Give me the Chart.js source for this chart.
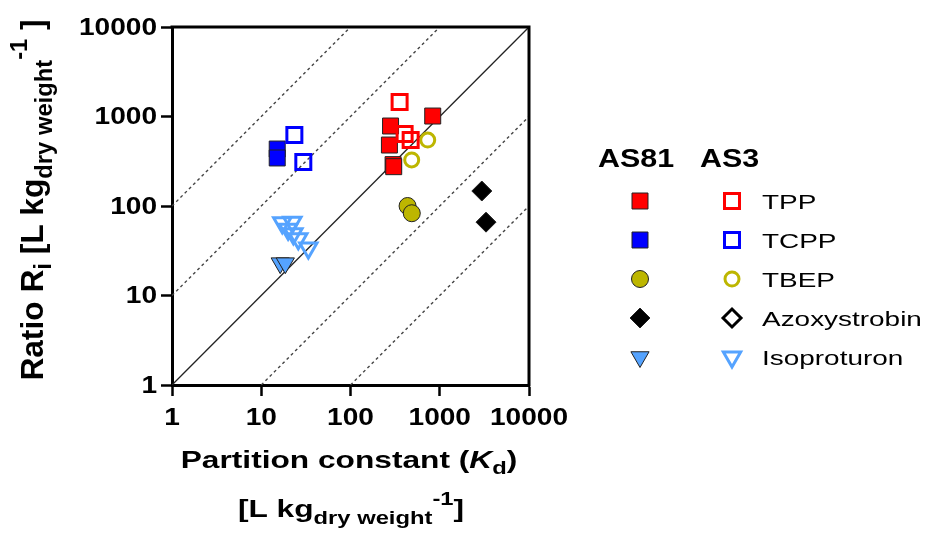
<!DOCTYPE html>
<html>
<head>
<meta charset="utf-8">
<script src="https://cdn.jsdelivr.net/npm/chart.js@4/dist/chart.umd.min.js"></script>
<style>
  html, body { margin: 0; padding: 0; background: #fff; }
</style>
</head>
<body>
<canvas id="c" width="925" height="539"></canvas>
<script>
// axis ticks (both axes log, 1..10000)
const tickValues = [1, 10, 100, 1000, 10000];
// reference lines: Ri = factor * Kd
const lineFactors = [100, 10, 1, 0.1, 0.01];

const compounds = ["TPP", "TCPP", "TBEP", "Azoxystrobin", "Isoproturon"];
const colors = ["#ff0000", "#0000ff", "#bdb600", "#000000", "#55a3ff"];
const shapes = ["rect", "rect", "circle", "rectRot", "triangle"];

// AS81 (filled markers)
const as81Kd = [[281, 273, 300, 305, 834], [15.1, 15.1], [436, 486], [2960, 3300], [16.3, 18.6]];
const as81Ri = [[783, 480, 290, 275, 1012], [433, 344], [100, 83], [147, 66], [23, 23]];
// AS3 (open markers)
const as3Kd = [[355, 404, 472], [23.5, 29.6], [733, 485], [], [17.2, 22.3, 20, 22.9, 26, 33.7]];
const as3Ri = [[1448, 637, 546], [620, 311], [545, 327], [], [65, 66, 55, 49, 43, 34]];

const filledRadius = { rect: 11.3, circle: 8.5, rectRot: 10, triangle: 10.5 };
const openRadius = { rect: 10.6, circle: 7, rectRot: 9, triangle: 10 };

function pts(xs, ys) {
  return xs.map((x, i) => ({ x: x, y: ys[i] }));
}

function markerStyle(i, open) {
  const shape = shapes[i];
  return {
    pointStyle: shape,
    rotation: shape === "triangle" ? 180 : 0,
    radius: open ? openRadius[shape] : filledRadius[shape],
    hoverRadius: open ? openRadius[shape] : filledRadius[shape],
    backgroundColor: open ? "rgba(0,0,0,0)" : colors[i],
    borderColor: open ? colors[i] : "#222",
    borderWidth: open ? 3 : 1
  };
}

const datasets = [];
compounds.forEach((name, i) => {
  const s = markerStyle(i, true);
  datasets.push({
    label: "AS3 " + name, data: pts(as3Kd[i], as3Ri[i]), showLine: false,
    pointStyle: s.pointStyle, rotation: s.rotation, pointRadius: s.radius, pointHoverRadius: s.hoverRadius,
    pointBackgroundColor: s.backgroundColor, pointBorderColor: s.borderColor, pointBorderWidth: s.borderWidth,
    order: 1
  });
});
compounds.forEach((name, i) => {
  const s = markerStyle(i, false);
  datasets.push({
    label: "AS81 " + name, data: pts(as81Kd[i], as81Ri[i]), showLine: false,
    pointStyle: s.pointStyle, rotation: s.rotation, pointRadius: s.radius, pointHoverRadius: s.hoverRadius,
    pointBackgroundColor: s.backgroundColor, pointBorderColor: s.borderColor, pointBorderWidth: s.borderWidth,
    order: 2
  });
});
lineFactors.forEach(f => {
  const x0 = Math.max(1, 1 / f), x1 = Math.min(10000, 10000 / f);
  datasets.push({
    label: "1:" + f, type: "line",
    data: [{ x: x0, y: x0 * f }, { x: x1, y: x1 * f }],
    borderColor: f === 1 ? "#222" : "#444",
    borderWidth: f === 1 ? 1.3 : 1.4,
    borderDash: f === 1 ? [] : [3, 3],
    pointRadius: 0, fill: false, order: 5
  });
});

// draws text made of runs (bold/italic/sub/sup), centred on x, baseline y
function richWidth(ctx, runs) {
  let w = 0;
  runs.forEach(r => { ctx.font = r.font; w += ctx.measureText(r.t).width; });
  return w;
}
function drawRich(ctx, runs, x, y, sx, sy, rot) {
  ctx.save();
  ctx.translate(x, y);
  if (rot) ctx.rotate(rot);
  ctx.scale(sx, sy);
  let cx = -richWidth(ctx, runs) / 2;
  ctx.textAlign = "left";
  ctx.textBaseline = "alphabetic";
  ctx.fillStyle = "#000";
  runs.forEach(r => {
    ctx.font = r.font;
    ctx.fillText(r.t, cx, r.dy || 0);
    cx += ctx.measureText(r.t).width;
  });
  ctx.restore();
}

const F = "'Liberation Sans', Arial, sans-serif";

const decor = {
  id: "decor",
  afterDraw(chart) {
    const ctx = chart.ctx;
    const a = chart.chartArea;
    const xs = chart.scales.x, ys = chart.scales.y;

    // top and right frame
    ctx.save();
    ctx.strokeStyle = "#000";
    ctx.lineWidth = 3;
    ctx.beginPath();
    ctx.moveTo(a.left - 1.5, a.top);
    ctx.lineTo(a.right, a.top);
    ctx.lineTo(a.right, a.bottom + 1.5);
    ctx.stroke();
    ctx.restore();

    // tick labels
    ctx.save();
    ctx.fillStyle = "#000";
    ctx.font = "bold 24px " + F;
    tickValues.forEach(v => {
      const py = ys.getPixelForValue(v);
      ctx.save();
      ctx.translate(a.left - 15, py + 1);
      ctx.scale(1.17, 1);
      ctx.textAlign = "right";
      ctx.textBaseline = "middle";
      ctx.fillText(String(v), 0, 0);
      ctx.restore();
      const px = xs.getPixelForValue(v);
      ctx.save();
      ctx.translate(px, a.bottom + 40);
      ctx.scale(1.17, 1);
      ctx.textAlign = "center";
      ctx.textBaseline = "alphabetic";
      ctx.fillText(String(v), 0, 0);
      ctx.restore();
    });
    ctx.restore();

    // x title
    const B = "bold 24px " + F, BS = "bold 18px " + F;
    drawRich(ctx, [
      { t: "Partition constant (", font: B },
      { t: "K", font: "italic bold 24px " + F },
      { t: "d", font: BS, dy: 6 },
      { t: ")", font: B }
    ], 349, 468, 1.32, 1);
    drawRich(ctx, [
      { t: "[L kg", font: B },
      { t: "dry weight", font: BS, dy: 7 },
      { t: "-1", font: BS, dy: -12 },
      { t: "]", font: B }
    ], 351, 517, 1.32, 1);

    // y title (rotated)
    drawRich(ctx, [
      { t: "Ratio R", font: B },
      { t: "i", font: BS, dy: 6 },
      { t: " [L kg", font: B },
      { t: "dry weight", font: BS, dy: 7 },
      { t: "-1", font: BS, dy: -12 },
      { t: " ]", font: B }
    ], 43, 200, 1.32, 1.3, -Math.PI / 2);

    // legend
    ctx.save();
    ctx.fillStyle = "#000";
    ctx.font = "bold 26px " + F;
    ctx.textBaseline = "alphabetic";
    [["AS81", 598], ["AS3", 700]].forEach(h => {
      ctx.save();
      ctx.translate(h[1], 167);
      ctx.scale(1.17, 1);
      ctx.fillText(h[0], 0, 0);
      ctx.restore();
    });
    compounds.forEach((name, i) => {
      const y = 201 + 39 * i;
      [[false, 640], [true, 732]].forEach(c => {
        const s = markerStyle(i, c[0]);
        ctx.save();
        ctx.fillStyle = s.backgroundColor;
        ctx.strokeStyle = s.borderColor;
        ctx.lineWidth = s.borderWidth;
        Chart.helpers.drawPoint(ctx, s, c[1], y);
        ctx.restore();
      });
      ctx.save();
      ctx.font = "21px " + F;
      ctx.translate(762, y + 8);
      ctx.scale(1.33, 1);
      ctx.fillText(name, 0, 0);
      ctx.restore();
    });
    ctx.restore();
  }
};

function fixTicks(scale) {
  scale.ticks = tickValues.map(v => ({ value: v }));
}

new Chart(document.getElementById("c"), {
  type: "scatter",
  data: { datasets },
  options: {
    responsive: false,
    animation: false,
    devicePixelRatio: 1,
    layout: { padding: { left: 0, right: 396, top: 27, bottom: 0 } },
    plugins: { legend: { display: false }, tooltip: { enabled: false } },
    scales: {
      x: {
        type: "logarithmic", min: 1, max: 10000,
        afterBuildTicks: fixTicks,
        afterFit(s) { s.height = 154; },
        ticks: { display: false },
        grid: { drawOnChartArea: false, drawTicks: true, tickLength: 11, tickWidth: 2.5, tickColor: "#000" },
        border: { display: true, color: "#000", width: 3 }
      },
      y: {
        type: "logarithmic", min: 1, max: 10000,
        afterBuildTicks: fixTicks,
        afterFit(s) { s.width = 172; },
        ticks: { display: false },
        grid: { drawOnChartArea: false, drawTicks: true, tickLength: 11, tickWidth: 2.5, tickColor: "#000" },
        border: { display: true, color: "#000", width: 3 }
      }
    }
  },
  plugins: [decor]
});
</script>
</body>
</html>
